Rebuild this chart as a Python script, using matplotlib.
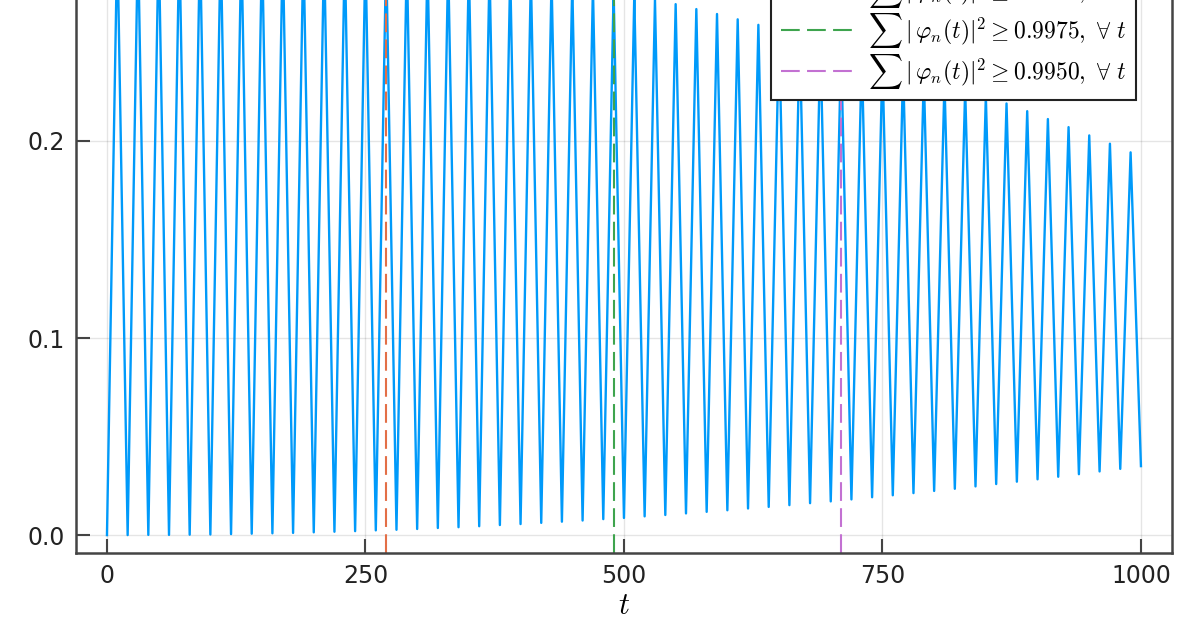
import numpy as np
import matplotlib.pyplot as plt

plt.rcParams['mathtext.fontset'] = 'cm'

#%% DATA (sampled every 10 time units)
t = list(range(0, 1001, 10))

# troughs at t = 0, 20, ..., 1000
troughs = [0.0000, 0.0000, 0.0001, 0.0001, 0.0002, 0.0003, 0.0005, 0.0007, 0.0009, 0.0011,
           0.0014, 0.0017, 0.0020, 0.0024, 0.0027, 0.0031, 0.0036, 0.0040, 0.0045, 0.0051,
           0.0056, 0.0062, 0.0068, 0.0074, 0.0081, 0.0087, 0.0095, 0.0102, 0.0110, 0.0118,
           0.0126, 0.0135, 0.0143, 0.0152, 0.0162, 0.0171, 0.0181, 0.0192, 0.0202, 0.0213,
           0.0224, 0.0235, 0.0247, 0.0259, 0.0271, 0.0283, 0.0296, 0.0309, 0.0323, 0.0336,
           0.0350]

# peaks at t = 10, 30, ..., 990
peaks = [0.3030, 0.3029, 0.3027, 0.3025, 0.3021, 0.3017, 0.3011, 0.3005, 0.2998, 0.2990,
         0.2981, 0.2971, 0.2961, 0.2949, 0.2937, 0.2923, 0.2909, 0.2894, 0.2878, 0.2861,
         0.2843, 0.2825, 0.2805, 0.2785, 0.2763, 0.2741, 0.2718, 0.2694, 0.2669, 0.2644,
         0.2617, 0.2589, 0.2561, 0.2532, 0.2502, 0.2470, 0.2438, 0.2406, 0.2372, 0.2337,
         0.2302, 0.2265, 0.2228, 0.2190, 0.2151, 0.2111, 0.2070, 0.2028, 0.1986, 0.1942]

y = [None] * len(t)
y[0::2] = troughs
y[1::2] = peaks

thresholds = ['0.9990', '0.9975', '0.9950']
t_cross = [270, 490, 710]
vcolors = ['#E36F47', '#3EA44E', '#C371D2']

#%% PLOT
fig = plt.figure(figsize=(11.96, 6.42), dpi=100)
ax = fig.add_axes([0.0635, 0.1386, 0.9164, 0.986])

ax.plot(t, y, color='#009AFA', lw=1.7)
for tc, th, c in zip(t_cross, thresholds, vcolors):
    ax.axvline(tc, color=c, lw=1.5, dashes=(9, 3.5),
               label=r'$\sum\,|\,\varphi_n(t)|^2 \geq %s,\ \forall\ t$' % th)

ymax = max(y)
ax.set_xlim(-30, 1030)
ax.set_ylim(-0.03 * ymax, 1.03 * ymax)
ax.set_xticks([0, 250, 500, 750, 1000])
ax.set_yticks([0.0, 0.1, 0.2])
ax.set_yticklabels(['0.0', '0.1', '0.2'])

ax.grid(True, color='black', alpha=0.1, lw=1)
for s in ax.spines.values():
    s.set_color('#444444')
    s.set_linewidth(1.8)
ax.tick_params(direction='in', length=10, width=1.5, colors='#444444',
               labelcolor='#222222', labelsize=17, pad=8, top=False, right=False)
ax.set_xlabel(r'$t$', fontsize=22, labelpad=2)

leg = ax.legend(loc='lower right', bbox_to_anchor=(1136 / 1196, 1 - 100 / 642),
                bbox_transform=fig.transFigure, borderaxespad=0, fontsize=17,
                handlelength=3.0, handletextpad=0.7, labelspacing=0.05,
                fancybox=False, framealpha=1, edgecolor='#222222')
leg.get_frame().set_linewidth(1.5)

fig.savefig('out.png', dpi=100)
